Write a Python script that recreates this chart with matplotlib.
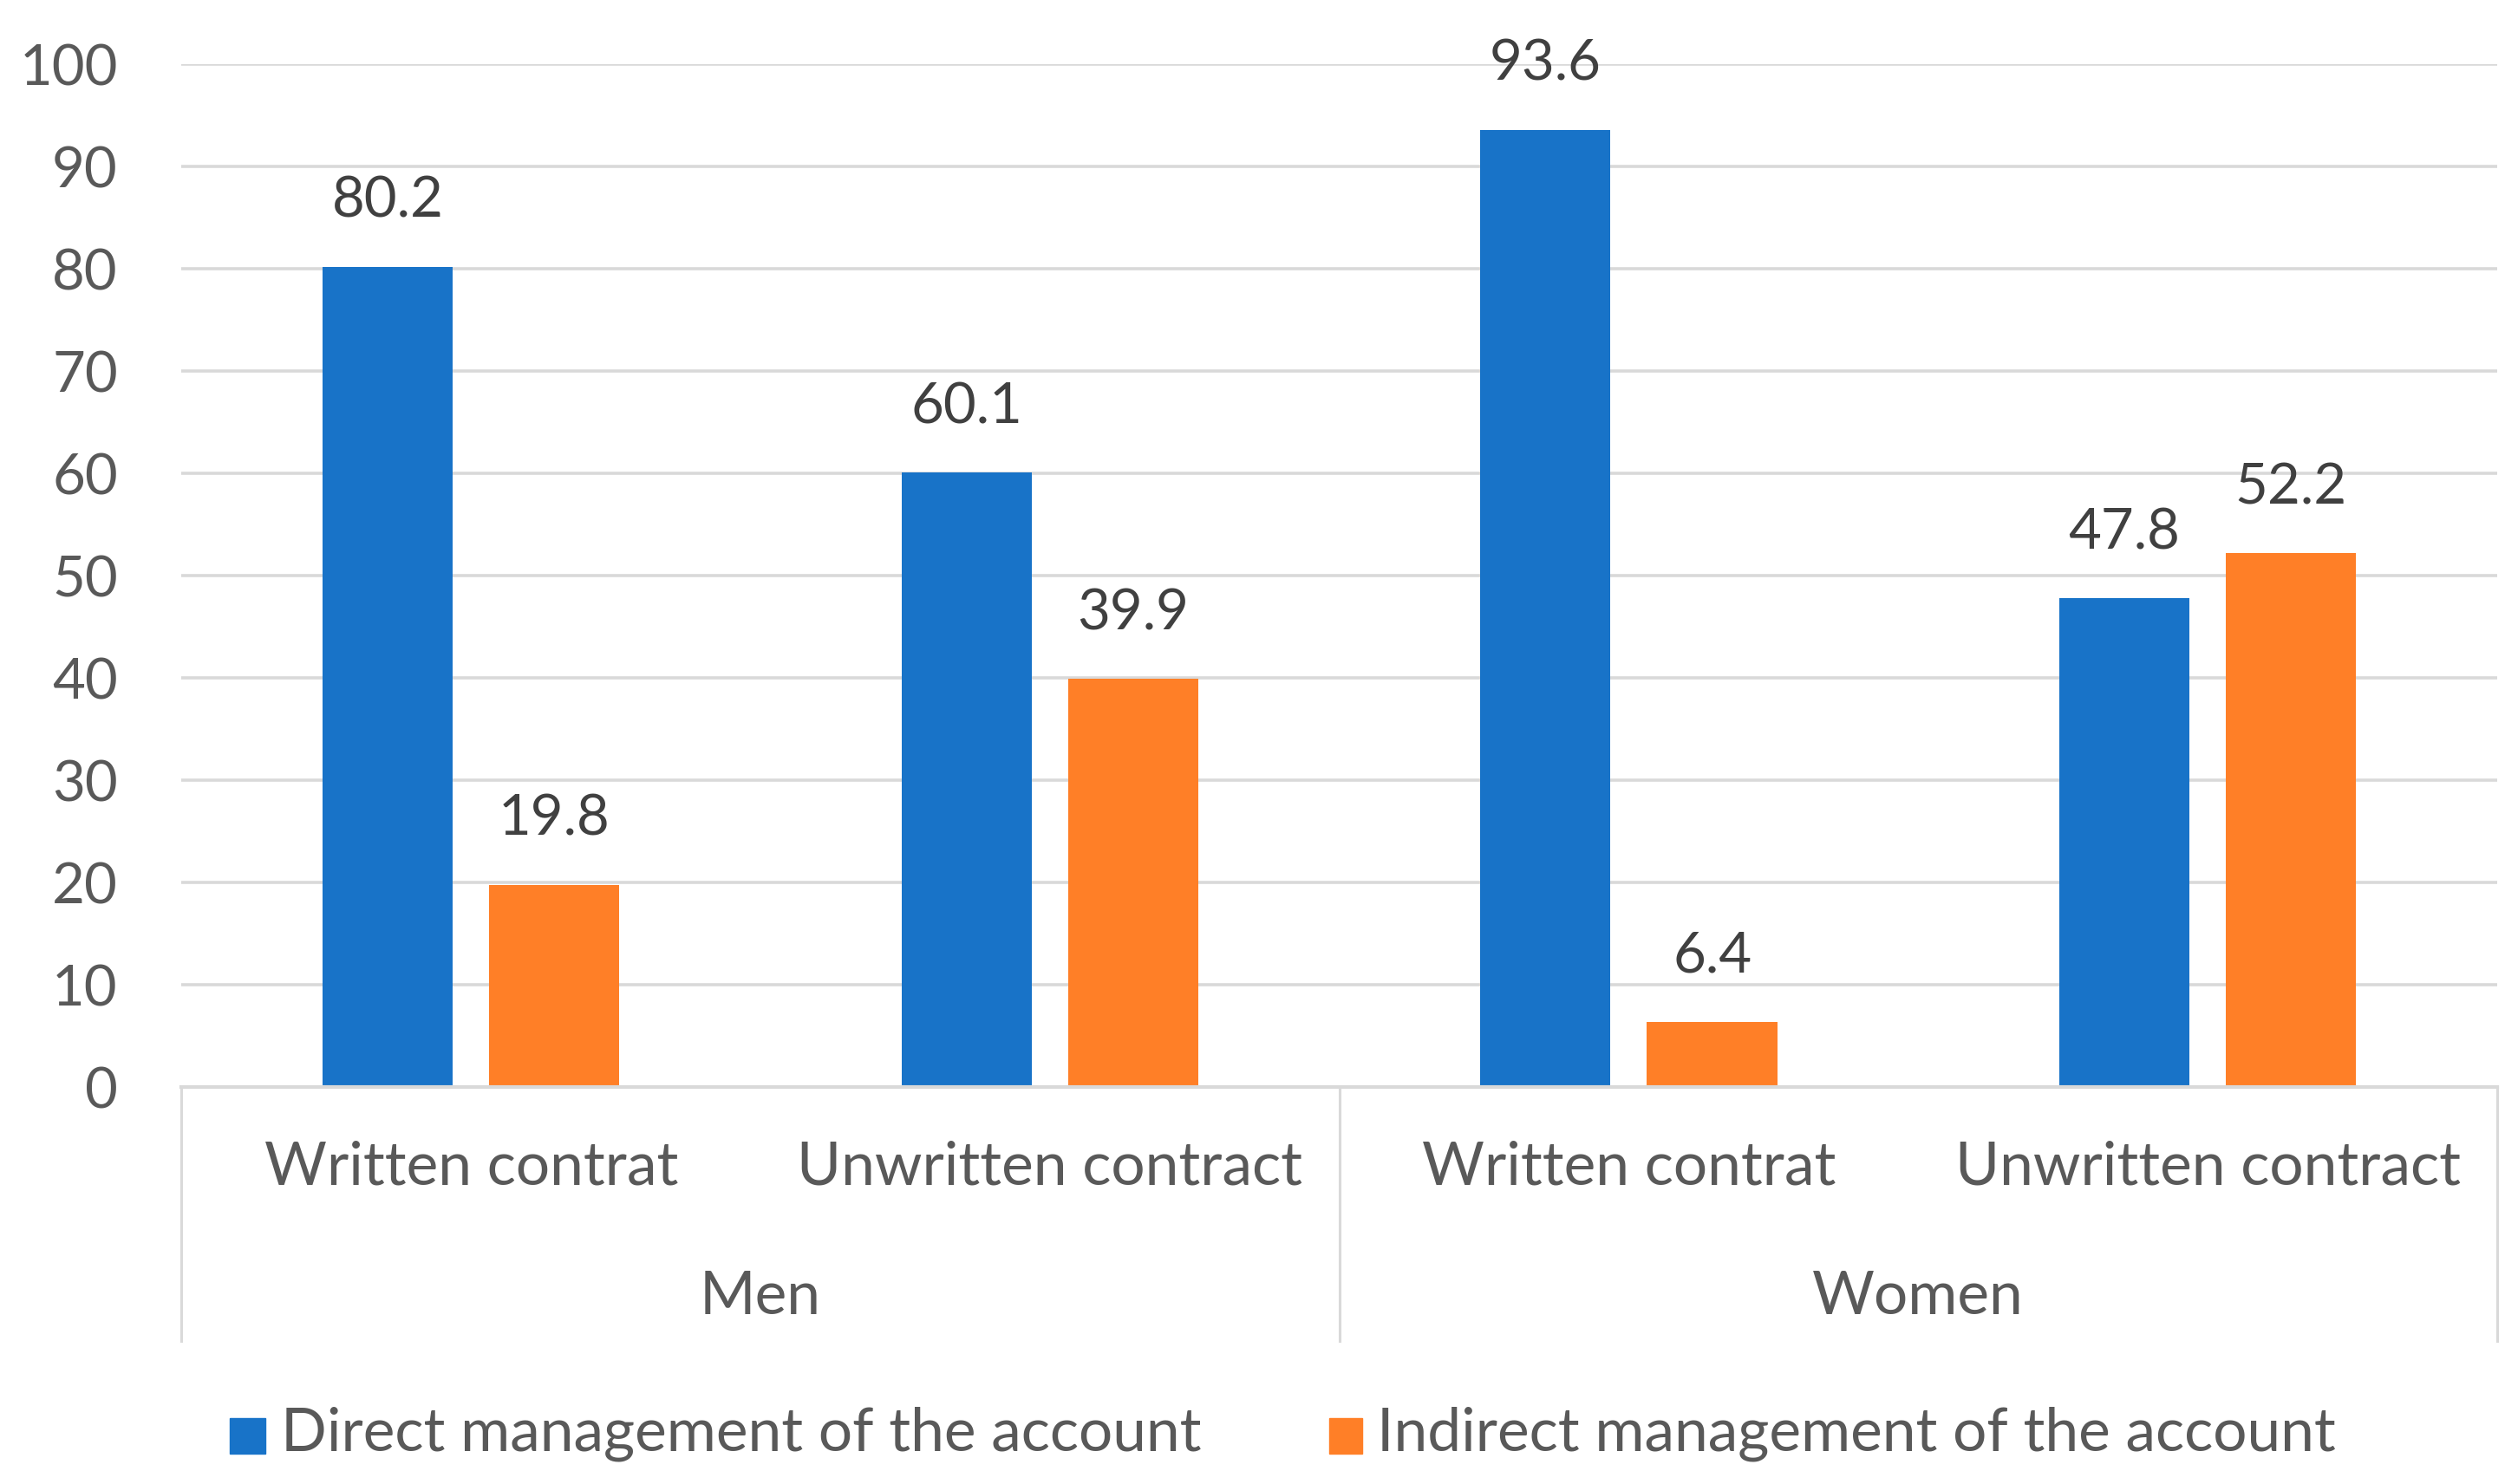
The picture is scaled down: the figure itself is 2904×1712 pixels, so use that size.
import matplotlib
matplotlib.use('Agg')
import matplotlib.pyplot as plt
import matplotlib.transforms as mtransforms
from matplotlib.patches import Rectangle

categories = ["Written contrat", "Unwritten contract", "Written contrat", "Unwritten contract"]
groups = ["Men", "Women"]
direct = [80.2, 60.1, 93.6, 47.8]
indirect = [19.8, 39.9, 6.4, 52.2]
series_names = ["Direct management of the account", "Indirect management of the account"]
yticks = [0, 10, 20, 30, 40, 50, 60, 70, 80, 90, 100]

BLUE = '#1873C8'
ORANGE = '#FF7F27'
GRID = '#D9D9D9'
TICKC = '#595959'
LABC = '#404040'
FS = 47
FSW = 50

plt.rcParams['font.family'] = ['Lato', 'DejaVu Sans']

fig = plt.figure(figsize=(29.04, 17.12), dpi=100)
ax = fig.add_axes([0.0721, 0.2673, 0.9196, 0.6894])

x = list(range(len(categories)))
w = 0.225
off = 0.144
xb = [i - off for i in x]
xo = [i + off for i in x]
ax.bar(xb, direct, width=w, color=BLUE, zorder=3)
ax.bar(xo, indirect, width=w, color=ORANGE, zorder=3)

for xi, v in zip(xb, direct):
    ax.annotate(f"{v}", (xi, v), xytext=(0, 41), textcoords='offset points',
                ha='center', va='baseline', fontsize=FS, color=LABC)
for xi, v in zip(xo, indirect):
    ax.annotate(f"{v}", (xi, v), xytext=(0, 41), textcoords='offset points',
                ha='center', va='baseline', fontsize=FS, color=LABC)

ax.set_xlim(-0.5, 3.5)
ax.set_ylim(0, 100)
ax.set_yticks(yticks)
ax.set_yticklabels([str(t) for t in yticks])
ax.set_xticks([])
ax.yaxis.grid(True, color=GRID, lw=2.6, zorder=0)
ax.set_axisbelow(True)
for s in ['top', 'right', 'left']:
    ax.spines[s].set_visible(False)
ax.spines['bottom'].set_color(GRID)
ax.spines['bottom'].set_linewidth(3)
ax.spines['bottom'].set_zorder(4)
ax.tick_params(axis='y', length=0, pad=53, labelsize=FS, labelcolor=TICKC)

trans = mtransforms.blended_transform_factory(ax.transData, ax.transAxes)
for xi, lab in zip(x, categories):
    ax.text(xi, -0.0785, lab, transform=trans, ha='center', va='center',
            fontsize=FSW, color=TICKC)
for gi, g in enumerate(groups):
    ax.text(gi * 2 + 0.5, -0.205, g, transform=trans, ha='center', va='center',
            fontsize=FSW, color=TICKC)
for sx in [-0.5, 1.5, 3.5]:
    ax.plot([sx, sx], [0, -0.248], transform=trans, clip_on=False, color=GRID, lw=2.2)

# legend
fig.patches.append(Rectangle((0.0912, 0.0206), 0.014, 0.0238, transform=fig.transFigure,
                             color=BLUE))
fig.text(0.1116, 0.0335, series_names[0], ha='left', va='center', fontsize=FSW, color=TICKC)
fig.patches.append(Rectangle((0.528, 0.0206), 0.013, 0.0238, transform=fig.transFigure,
                             color=ORANGE))
fig.text(0.547, 0.0335, series_names[1], ha='left', va='center', fontsize=FSW, color=TICKC)

fig.savefig('out.png', dpi=100, facecolor='white')
